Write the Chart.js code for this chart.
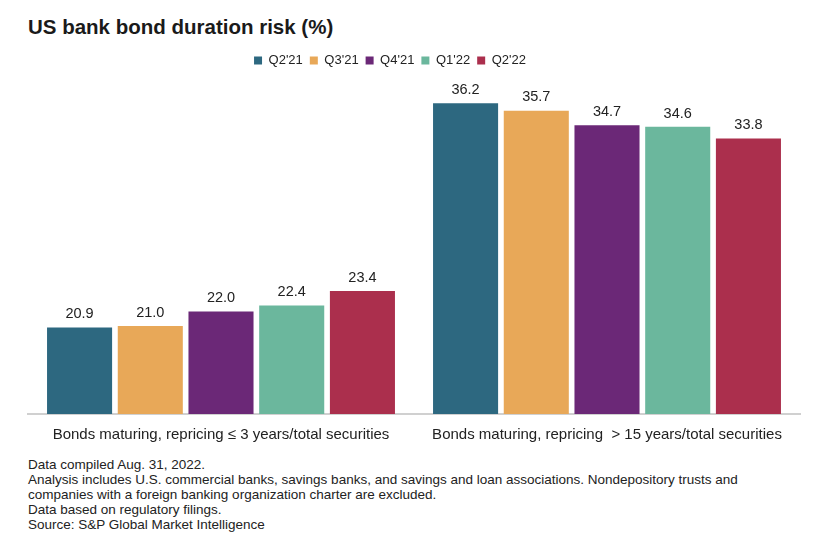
<!DOCTYPE html>
<html>
<head>
<meta charset="utf-8">
<script src="https://cdn.jsdelivr.net/npm/chart.js@4"></script>
<style>
  body { margin: 0; background: #fff; width: 822px; height: 552px; overflow: hidden; font-family: "Liberation Sans", Arial, sans-serif; color: #222; }
  #title { position: absolute; left: 28px; top: 15px; font-size: 20.5px; font-weight: bold; color: #1a1a1a; }
  #wrap { position: absolute; left: 0; top: 47px; width: 822px; height: 401px; }
  #notes { position: absolute; left: 28px; top: 457px; font-size: 13.5px; line-height: 15px; color: #222; }
</style>
</head>
<body>
<div id="title">US bank bond duration risk (%)</div>
<div id="wrap"><canvas id="chart"></canvas></div>
<div id="notes">
  Data compiled Aug. 31, 2022.<br>
  Analysis includes U.S. commercial banks, savings banks, and savings and loan associations. Nondepository trusts and<br>
  companies with a foreign banking organization charter are excluded.<br>
  Data based on regulatory filings.<br>
  Source: S&amp;P Global Market Intelligence
</div>
<script>
const categories = [
  "Bonds maturing, repricing \u2264 3 years/total securities",
  "Bonds maturing, repricing  > 15 years/total securities"
];
const quarters = ["Q2'21", "Q3'21", "Q4'21", "Q1'22", "Q2'22"];
const q2_21 = [20.9, 36.2];
const q3_21 = [21.0, 35.7];
const q4_21 = [22.0, 34.7];
const q1_22 = [22.4, 34.6];
const q2_22 = [23.4, 33.8];

const colors = ["#2d6880", "#e8a858", "#6b2877", "#6bb79d", "#ab2f4d"];
const series = [q2_21, q3_21, q4_21, q1_22, q2_22];
const fontFamily = "'Liberation Sans', Arial, sans-serif";

// draws the value above each bar
const valueLabels = {
  id: "valueLabels",
  afterDatasetsDraw(chart) {
    const ctx = chart.ctx;
    ctx.save();
    ctx.font = "14.5px " + fontFamily;
    ctx.fillStyle = "#222";
    ctx.textAlign = "center";
    ctx.textBaseline = "bottom";
    chart.data.datasets.forEach((ds, i) => {
      chart.getDatasetMeta(i).data.forEach((bar, j) => {
        ctx.fillText(ds.data[j].toFixed(1), bar.x, bar.y - 6);
      });
    });
    ctx.restore();
  }
};

// legend sits a bit left of the plot centre in the original
const legendShift = {
  id: "legendShift",
  afterLayout(chart) {
    chart.legend.left -= 24;
    chart.legend.right -= 24;
  }
};

new Chart(document.getElementById("chart"), {
  type: "bar",
  data: {
    labels: categories,
    datasets: quarters.map((q, i) => ({
      label: q,
      data: series[i],
      backgroundColor: colors[i],
      categoryPercentage: 0.916,
      barPercentage: 0.92
    }))
  },
  options: {
    responsive: true,
    maintainAspectRatio: false,
    animation: false,
    layout: { padding: { left: 28, right: 22, top: 0, bottom: 0 } },
    plugins: {
      legend: {
        position: "top",
        labels: {
          boxWidth: 8,
          boxHeight: 8,
          padding: 7,
          color: "#222",
          font: { size: 13, family: fontFamily }
        }
      },
      tooltip: { enabled: false }
    },
    scales: {
      x: {
        grid: { display: false },
        border: { color: "#d0d0d0", width: 2 },
        ticks: { color: "#222", font: { size: 15, family: fontFamily }, padding: 4 }
      },
      y: {
        display: false,
        min: 15,
        max: 38
      }
    }
  },
  plugins: [valueLabels, legendShift]
});
</script>
</body>
</html>
